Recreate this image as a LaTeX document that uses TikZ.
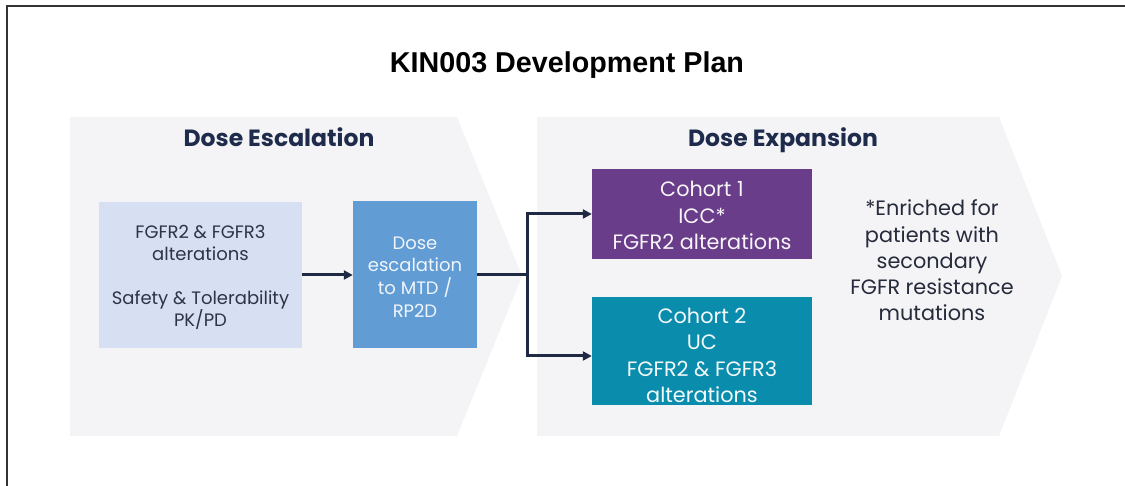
\documentclass[tikz,border=0pt]{standalone}
\usepackage{fontspec}
\setmainfont{Poppins}
\newfontfamily\titlefont{Liberation Sans}
\usetikzlibrary{arrows.meta,calc}
\definecolor{chevfill}{HTML}{F4F4F7}
\definecolor{bordercol}{HTML}{333333}
\definecolor{navy}{HTML}{1F2944}
\definecolor{headcol}{HTML}{1E2B4B}
\definecolor{lightbox}{HTML}{D6E0F2}
\definecolor{midbox}{HTML}{619CD4}
\definecolor{purplebox}{HTML}{693D8A}
\definecolor{tealbox}{HTML}{0A8DAC}
\definecolor{darktext}{HTML}{2E3346}
\definecolor{notetext}{HTML}{262B3B}
\begin{document}
\begin{tikzpicture}[x=1pt,y=-1pt,
  boxstyle/.style={rectangle, inner sep=0pt, align=center},
  smalltext/.style={font=\fontsize{18}{22}\selectfont},
  midtext/.style={font=\fontsize{18}{22.8}\selectfont},
  bigtext/.style={font=\fontsize{20.8}{26.3}\selectfont},
  heading/.style={font=\fontsize{23.5}{28}\selectfont\bfseries, text=headcol, anchor=base},
  conn/.style={draw=navy, line width=3pt, -{Triangle[length=9pt,width=9pt]}},
  plainline/.style={draw=navy, line width=3pt}
]
\useasboundingbox (0,0) rectangle (1125,486);
\fill[white] (0,0) rectangle (1125,486);
\draw[bordercol, line width=2pt] (6.5,486) -- (6.5,6.5) -- (1125,6.5);
% chevrons
\fill[chevfill] (70,117) -- (457,117) -- (522,276) -- (457,436) -- (70,436) -- cycle;
\fill[chevfill] (537,117) -- (999,117) -- (1062,276) -- (999,436) -- (537,436) -- cycle;
% title and headings
\node[font=\titlefont\fontsize{28.7}{32}\selectfont\bfseries, text=black, anchor=base] (title) at (567,73) {KIN003 Development Plan};
\node[heading] (hesc) at (279,147) {Dose Escalation};
\node[heading] (hexp) at (783,147) {Dose Expansion};
% boxes
\node[boxstyle, fill=lightbox, minimum width=203pt, minimum height=146pt] (crit) at (200.5,275) {};
\node[boxstyle, smalltext, text=darktext] (crittext) at ([yshift=-2.5pt]crit.center)
  {FGFR2 \& FGFR3\\alterations\\[22pt]Safety \& Tolerability\\PK/PD};
\node[boxstyle, fill=midbox, minimum width=124pt, minimum height=147pt] (dose) at (415,275) {};
\node[boxstyle, midtext, text=white!90!midbox] (dosetext) at ([yshift=-2pt]dose.center)
  {Dose\\escalation\\to MTD /\\RP2D};
\node[boxstyle, fill=purplebox, minimum width=220pt, minimum height=90pt] (c1) at (702,214) {};
\node[boxstyle, bigtext, text=white!95!purplebox] (c1text) at ([yshift=-1.5pt]c1.center)
  {Cohort 1\\ICC*\\FGFR2 alterations};
\node[boxstyle, fill=tealbox, minimum width=220pt, minimum height=108pt] (c2) at (702,351) {};
\node[boxstyle, bigtext, text=white!95!tealbox] (c2text) at ([yshift=-4.5pt]c2.center)
  {Cohort 2\\UC\\FGFR2 \& FGFR3\\alterations};
\node[align=center, bigtext, text=notetext] (note) at (932,260.5)
  {*Enriched for\\patients with\\secondary\\FGFR resistance\\mutations};
% connectors
\coordinate (split) at (527,275);
\draw[conn] (crit.east) -- (dose.west);
\draw[plainline] (dose.east) -- (split);
\draw[conn] (split) |- (c1.west);
\draw[conn] (split) |- ([yshift=-5pt]c2.west);
\end{tikzpicture}
\end{document}
